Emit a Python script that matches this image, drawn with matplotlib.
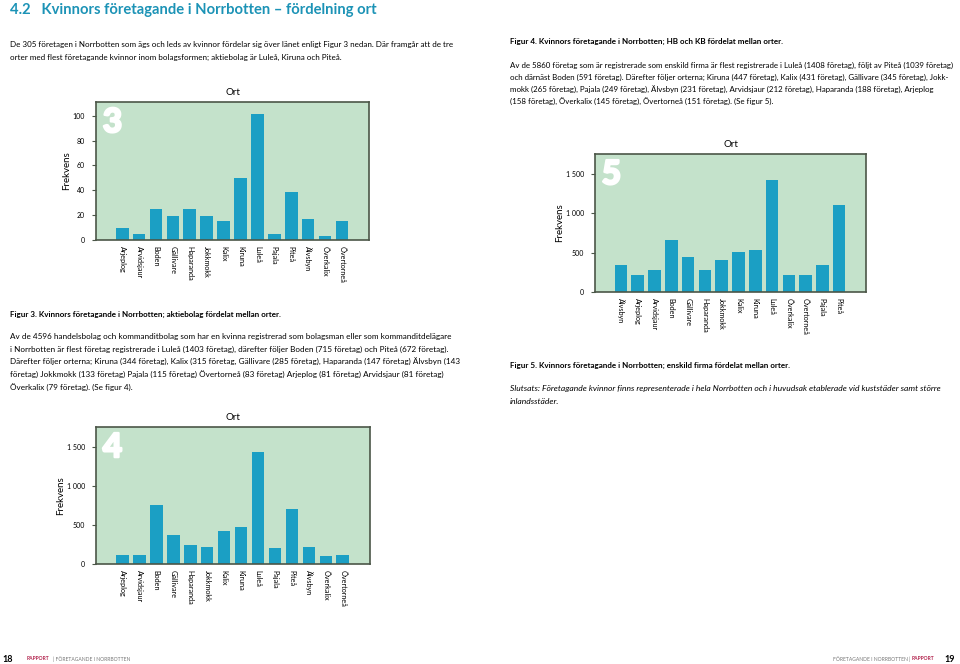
import matplotlib
matplotlib.use('Agg')
import matplotlib.pyplot as plt
import matplotlib.patheffects as pe

plt.rcParams['font.family'] = ['Lato', 'DejaVu Sans']

# ---- data
orter = ['Arjeplog', 'Arvidsjaur', 'Boden', 'Gällivare', 'Haparanda',
         'Jokkmokk', 'Kalix', 'Kiruna', 'Luleå', 'Pajala', 'Piteå',
         'Älvsbyn', 'Överkalix', 'Övertorneå']
ab_values = [10, 5, 25, 19, 25, 19, 15, 50, 101, 5, 39, 17, 3, 15]
hbkb_values = [110, 110, 760, 375, 240, 215, 420, 470, 1430, 200, 710,
               215, 100, 115]

orter_ef = ['Älvsbyn', 'Arjeplog', 'Arvidsjaur', 'Boden', 'Gällivare',
            'Haparanda', 'Jokkmokk', 'Kalix', 'Kiruna', 'Luleå',
            'Överkalix', 'Övertorneå', 'Pajala', 'Piteå']
ef_values = [340, 220, 280, 665, 440, 280, 410, 505, 535, 1430, 210, 210,
             340, 1110]

ticks_small = [0, 20, 40, 60, 80, 100]
ticks_big = [0, 500, 1000, 1500]
ticks_big_labels = ['0', '500', '1 000', '1 500']

# ---- colours
BG = '#c4e2cb'
BAR = '#1b9fc4'
FRAME = '#4b5648'
TEAL = '#1c93b6'
RED = '#b3264f'

W, H = 960, 664
fig = plt.figure(figsize=(W / 100, H / 100), dpi=100)


def px(x, y):
    return x / W, 1 - y / H


def txt(x, y, s, **kw):
    kw.setdefault('fontsize', 5.8)
    kw.setdefault('va', 'center')
    fig.text(*px(x, y), s, **kw)


def bar_chart(left, top, right, bottom, labels, values, ymax, ticks,
              tick_labels, number):
    ax = fig.add_axes([left / W, 1 - bottom / H, (right - left) / W,
                       (bottom - top) / H])
    ax.set_facecolor(BG)
    x = range(len(values))
    ax.bar(x, values, width=0.75, color=BAR, zorder=2)
    ax.set_xlim(-1.55, len(values) - 1 + 1.6)
    ax.set_ylim(0, ymax)
    ax.set_xticks(list(x))
    ax.set_xticklabels(labels, rotation=-90, fontsize=5.2, va='top')
    ax.set_yticks(ticks)
    ax.set_yticklabels(tick_labels, fontsize=5)
    ax.tick_params(axis='x', length=0, pad=4)
    ax.tick_params(axis='y', length=3, width=0.8, color=FRAME, pad=5)
    for s in ax.spines.values():
        s.set_color(FRAME)
        s.set_linewidth(1.2)
    ax.set_title('Ort', fontsize=7, pad=5)
    ax.set_ylabel('Frekvens', fontsize=7, labelpad=1)
    # big white figure number in the corner
    ax.text(0.025, 0.955, number, transform=ax.transAxes, va='top',
            ha='left', fontsize=24, fontweight='black', color='white',
            family='Lato',
            path_effects=[pe.withStroke(linewidth=1.6, foreground='white')])
    return ax


# ---- left page
txt(10, 10, '4.2   Kvinnors företagande i Norrbotten – fördelning ort',
    fontsize=10.6, fontweight='bold', color=TEAL)

txt(10, 45, 'De 305 företagen i Norrbotten som ägs och leds av kvinnor '
    'fördelar sig över länet enligt Figur 3 nedan. Där framgår att de tre')
txt(10, 57, 'orter med flest företagande kvinnor inom bolagsformen; '
    'aktiebolag är Luleå, Kiruna och Piteå.')

bar_chart(96, 102, 369, 240, orter, ab_values, 111, ticks_small,
          [str(t) for t in ticks_small], '3')

txt(10, 314, 'Figur 3. Kvinnors företagande i Norrbotten; aktiebolag '
    'fördelat mellan orter.', fontweight='bold')

para_left = [
    'Av de 4596 handelsbolag och kommanditbolag som har en kvinna '
    'registrerad som bolagsman eller som kommanditdelägare',
    'i Norrbotten är flest företag registrerade i Luleå (1403 företag), '
    'därefter följer Boden (715 företag) och Piteå (672 företag).',
    'Därefter följer orterna; Kiruna (344 företag), Kalix (315 företag, '
    'Gällivare (285 företag), Haparanda (147 företag) Älvsbyn (143',
    'företag) Jokkmokk (133 företag) Pajala (115 företag) Övertorneå '
    '(83 företag) Arjeplog (81 företag) Arvidsjaur (81 företag)',
    'Överkalix (79 företag). (Se figur 4).',
]
for i, line in enumerate(para_left):
    txt(10, 336 + i * 13, line, fontsize=5.9)

bar_chart(96, 427, 370, 564, orter, hbkb_values, 1756, ticks_big,
          ticks_big_labels, '4')

# ---- right page
txt(510, 41, 'Figur 4. Kvinnors företagande i Norrbotten; HB och KB '
    'fördelat mellan orter.', fontweight='bold')

para_right = [
    'Av de 5860 företag som är registrerade som enskild firma är flest '
    'registrerade i Luleå (1408 företag), följt av Piteå (1039 företag)',
    'och därnäst Boden (591 företag). Därefter följer orterna; Kiruna '
    '(447 företag), Kalix (431 företag), Gällivare (345 företag), Jokk-',
    'mokk (265 företag), Pajala (249 företag), Älvsbyn (231 företag), '
    'Arvidsjaur (212 företag), Haparanda (188 företag), Arjeplog',
    '(158 företag), Överkalix (145 företag), Övertorneå (151 företag). '
    '(Se figur 5).',
]
for i, line in enumerate(para_right):
    txt(510, 65 + i * 12.3, line, fontsize=5.65)

bar_chart(595, 154, 866, 292, orter_ef, ef_values, 1756, ticks_big,
          ticks_big_labels, '5')

txt(510, 365, 'Figur 5. Kvinnors företagande i Norrbotten; enskild firma '
    'fördelat mellan orter.', fontweight='bold')
txt(510, 388, 'Slutsats: Företagande kvinnor finns representerade i hela '
    'Norrbotten och i huvudsak etablerade vid kuststäder samt större',
    style='italic', fontsize=6.1)
txt(510, 401, 'inlandsstäder.', style='italic', fontsize=6.1)

# ---- footer
txt(2, 659, '18', fontsize=6.5, fontweight='bold')
txt(27, 659, 'RAPPORT', fontsize=3.6, fontweight='bold', color=RED)
txt(53, 659, '| FÖRETAGANDE I NORRBOTTEN', fontsize=3.6, color='#777777')
txt(910, 659, 'FÖRETAGANDE I NORRBOTTEN |', fontsize=3.6, color='#777777',
    ha='right')
txt(912, 659, 'RAPPORT', fontsize=3.6, fontweight='bold', color=RED)
txt(944, 659, '19', fontsize=6.5, fontweight='bold')

fig.savefig('out.png', dpi=100, facecolor='white')
